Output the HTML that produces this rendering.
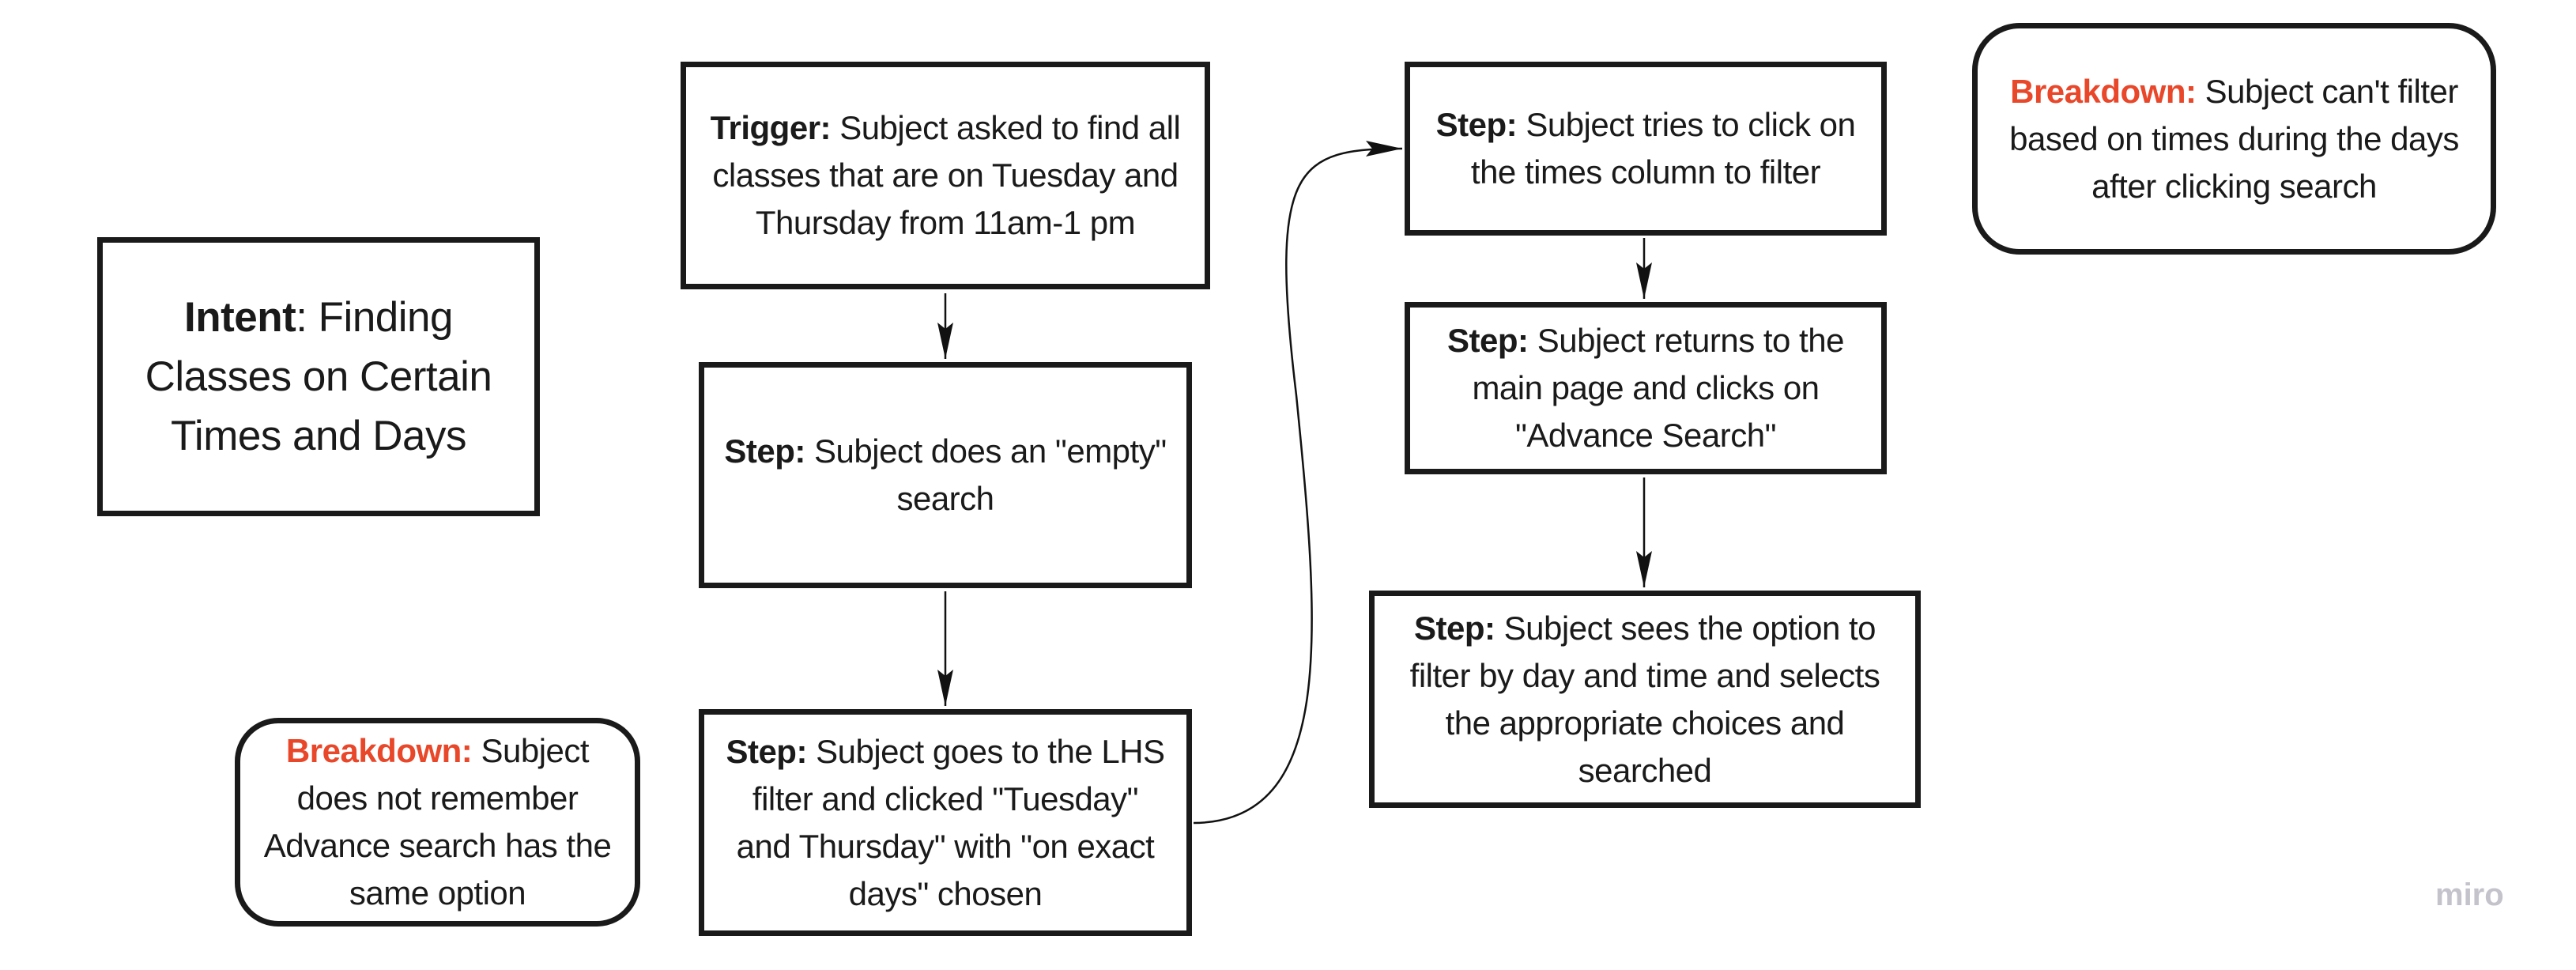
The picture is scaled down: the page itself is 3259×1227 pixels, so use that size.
<!DOCTYPE html>
<html><head><meta charset="utf-8"><style>
html,body{margin:0;padding:0;background:#fff;}
body{width:3259px;height:1227px;position:relative;overflow:hidden;font-family:"Liberation Sans",sans-serif;color:#1a1a1a;}
.b{position:absolute;box-sizing:border-box;border:7px solid #1a1a1a;display:flex;align-items:center;justify-content:center;text-align:center;font-size:42px;line-height:60px;white-space:nowrap;letter-spacing:-0.5px;}
.r{border-radius:55px;}
b{font-weight:bold;}
.red{color:#e8472a;font-weight:bold;}
svg{position:absolute;left:0;top:0;}
</style></head><body>
<div class="b" style="left:123px;top:300px;width:560px;height:353px;font-size:53px;line-height:75px;"><div><b>Intent</b>: Finding<br>Classes on Certain<br>Times and Days</div></div>
<div class="b" style="left:861px;top:78px;width:670px;height:288px;"><div><b>Trigger:</b> Subject asked to find all<br>classes that are on Tuesday and<br>Thursday from 11am-1 pm</div></div>
<div class="b" style="left:884px;top:458px;width:624px;height:286px;"><div><b>Step:</b> Subject does an "empty"<br>search</div></div>
<div class="b" style="left:884px;top:897px;width:624px;height:287px;"><div><b>Step:</b> Subject goes to the LHS<br>filter and clicked "Tuesday"<br>and Thursday" with "on exact<br>days" chosen</div></div>
<div class="b r" style="left:297px;top:908px;width:513px;height:264px;"><div><span class="red">Breakdown:</span> Subject<br>does not remember<br>Advance search has the<br>same option</div></div>
<div class="b" style="left:1777px;top:78px;width:610px;height:220px;"><div><b>Step:</b> Subject tries to click on<br>the times column to filter</div></div>
<div class="b" style="left:1777px;top:382px;width:610px;height:218px;"><div><b>Step:</b> Subject returns to the<br>main page and clicks on<br>"Advance Search"</div></div>
<div class="b" style="left:1732px;top:747px;width:698px;height:275px;"><div><b>Step:</b> Subject sees the option to<br>filter by day and time and selects<br>the appropriate choices and<br>searched</div></div>
<div class="b r" style="left:2495px;top:29px;width:663px;height:293px;border-radius:60px;"><div><span class="red">Breakdown:</span> Subject can't filter<br>based on times during the days<br>after clicking search</div></div>
<div style="position:absolute;left:3081px;top:1110px;font-size:40px;color:#c4c3cc;font-weight:bold;">miro</div>
<svg width="3259" height="1227" viewBox="0 0 3259 1227">
<defs>
<marker id="m" markerWidth="46" markerHeight="20" refX="46" refY="10" orient="auto" markerUnits="userSpaceOnUse" viewBox="0 0 46 20"><path d="M0,0 L46,10 L0,20 L8,10 Z" fill="#111"/></marker></defs>
<g stroke="#111" stroke-width="2.5" fill="none">
<line x1="1196" y1="371" x2="1196" y2="454" marker-end="url(#m)"/>
<line x1="1196" y1="748" x2="1196" y2="893" marker-end="url(#m)"/>
<line x1="2080" y1="301" x2="2080" y2="378" marker-end="url(#m)"/>
<line x1="2080" y1="604" x2="2080" y2="743" marker-end="url(#m)"/>
<path d="M1510,1041 C1690,1040 1670,800 1640,500 C1605,210 1640,188 1774,188" marker-end="url(#m)"/>
</g></svg>
</body></html>
